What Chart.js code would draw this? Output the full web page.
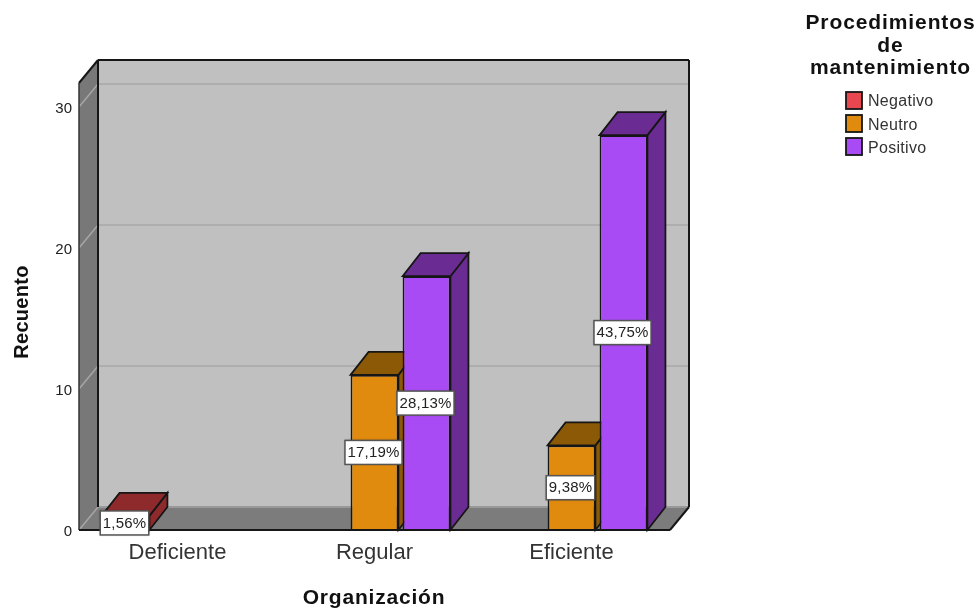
<!DOCTYPE html>
<html>
<head>
<meta charset="utf-8">
<title>Organización</title>
<script src="https://cdn.jsdelivr.net/npm/chart.js@4"></script>
<style>
  body { margin: 0; background: #fff; }
  canvas { display: block; }
</style>
</head>
<body>
<canvas id="recuentoChart" width="979" height="609"></canvas>
<script>
const categorias = ['Deficiente', 'Regular', 'Eficiente'];
const negativo = [1, null, null];
const neutro = [null, 11, 6];
const positivo = [null, 18, 28];
const negativoPct = ['1,56%', null, null];
const neutroPct = [null, '17,19%', '9,38%'];
const positivoPct = [null, '28,13%', '43,75%'];
const yTicks = [0, 10, 20, 30];
const tituloLeyenda = ['Procedimientos', 'de', 'mantenimiento'];

const FONT = '"Liberation Sans", Arial, sans-serif';
const DX = 19, DY = -23; // profundidad de la caja 3D
const NEGRO = '#161616';

function poly(ctx, pts, fill, stroke, lw) {
    ctx.beginPath();
    pts.forEach((p, i) => i ? ctx.lineTo(p[0], p[1]) : ctx.moveTo(p[0], p[1]));
    ctx.closePath();
    if (fill) { ctx.fillStyle = fill; ctx.fill(); }
    if (stroke) { ctx.strokeStyle = stroke; ctx.lineWidth = lw || 1.5; ctx.stroke(); }
}

function line(ctx, x1, y1, x2, y2, color, lw) {
    ctx.beginPath();
    ctx.moveTo(x1, y1);
    ctx.lineTo(x2, y2);
    ctx.strokeStyle = color;
    ctx.lineWidth = lw;
    ctx.stroke();
}

// paredes, suelo y rejilla
const caja = {
    id: 'caja',
    beforeDatasetsDraw(chart) {
        const { ctx, chartArea: a, scales: { y } } = chart;
        ctx.save();
        poly(ctx, [[a.left + DX, a.top + DY], [a.right + DX, a.top + DY], [a.right + DX, a.bottom + DY], [a.left + DX, a.bottom + DY]], '#c0c0c0');
        poly(ctx, [[a.left, a.top], [a.left + DX, a.top + DY], [a.left + DX, a.bottom + DY], [a.left, a.bottom]], '#787878');
        poly(ctx, [[a.left, a.bottom], [a.left + DX, a.bottom + DY], [a.right + DX, a.bottom + DY], [a.right, a.bottom]], '#7c7c7c');
        yTicks.forEach(v => {
            const py = y.getPixelForValue(v);
            line(ctx, a.left, py, a.left + DX, py + DY, '#a6a6a6', 1.5);
            line(ctx, a.left + DX, py + DY, a.right + DX, py + DY, v === 0 ? '#999' : '#aeaeae', 2);
        });
        // aristas
        line(ctx, a.left + DX, a.top + DY, a.right + DX, a.top + DY, NEGRO, 2);
        line(ctx, a.right + DX, a.top + DY, a.right + DX, a.bottom + DY, NEGRO, 2);
        line(ctx, a.right + DX, a.bottom + DY, a.right, a.bottom, NEGRO, 2);
        line(ctx, a.left + DX, a.top + DY, a.left + DX, a.bottom + DY, NEGRO, 2);
        line(ctx, a.left, a.top, a.left + DX, a.top + DY, NEGRO, 2);
        line(ctx, a.left, a.top, a.left, a.bottom, '#333', 1.5);
        line(ctx, a.left, a.bottom, a.right, a.bottom, NEGRO, 2);

        // caras lateral y superior de cada barra, el frente lo pinta Chart.js encima
        chart.data.datasets.forEach((ds, i) => {
            chart.getDatasetMeta(i).data.forEach((bar, j) => {
                if (ds.data[j] === null) return;
                const w = bar.width / 2;
                const l = bar.x - w, r = bar.x + w, t = bar.y, b = bar.base;
                poly(ctx, [[r, t], [r + DX - 1, t + DY], [r + DX - 1, b + DY], [r, b]], ds.sombra, NEGRO, 1.8);
                poly(ctx, [[l, t], [l + DX - 1, t + DY], [r + DX - 1, t + DY], [r, t]], ds.sombra, NEGRO, 1.8);
            });
        });
        ctx.restore();
    },
    afterDatasetsDraw(chart) {
        const { ctx, chartArea: a } = chart;
        ctx.save();
        line(ctx, a.left, a.bottom, a.right, a.bottom, NEGRO, 2);
        // etiquetas de porcentaje
        ctx.font = '15px ' + FONT;
        ctx.letterSpacing = '0.2px';
        ctx.textAlign = 'center';
        ctx.textBaseline = 'middle';
        chart.data.datasets.forEach((ds, i) => {
            chart.getDatasetMeta(i).data.forEach((bar, j) => {
                const txt = ds.etiquetas[j];
                if (!txt) return;
                const cy = (bar.y + bar.base) / 2;
                const bw = ctx.measureText(txt).width + 5, bh = 24;
                ctx.fillStyle = '#fff';
                ctx.shadowColor = 'rgba(0,0,0,0.35)';
                ctx.shadowBlur = 2;
                ctx.fillRect(bar.x - bw / 2 - 1, cy - bh / 2, bw, bh);
                ctx.shadowColor = 'transparent';
                ctx.shadowBlur = 0;
                ctx.strokeStyle = '#555';
                ctx.lineWidth = 1.5;
                ctx.strokeRect(bar.x - bw / 2 - 1, cy - bh / 2, bw, bh);
                ctx.fillStyle = '#222';
                ctx.fillText(txt, bar.x - 1, cy + 0.5);
            });
        });

        // títulos de los ejes
        ctx.fillStyle = '#111';
        ctx.font = 'bold 21px ' + FONT;
        ctx.letterSpacing = '0.8px';
        ctx.fillText('Organización', 374, 598);
        ctx.save();
        ctx.translate(22, 312);
        ctx.rotate(-Math.PI / 2);
        ctx.font = 'bold 20px ' + FONT;
        ctx.letterSpacing = '0.3px';
        ctx.fillText('Recuento', 0, 0);
        ctx.restore();

        // leyenda
        ctx.fillStyle = '#111';
        ctx.font = 'bold 21px ' + FONT;
        ctx.letterSpacing = '0.9px';
        tituloLeyenda.forEach((t, i) => ctx.fillText(t, 890.5, 23.5 + i * 22.5));
        ctx.font = '16px ' + FONT;
        ctx.letterSpacing = '0.3px';
        ctx.textAlign = 'left';
        chart.data.datasets.forEach((ds, i) => {
            const top = 92 + i * 23;
            ctx.fillStyle = ds.backgroundColor;
            ctx.fillRect(846, top, 16, 17);
            ctx.strokeStyle = NEGRO;
            ctx.lineWidth = 1.8;
            ctx.strokeRect(846, top, 16, 17);
            ctx.fillStyle = '#333';
            ctx.fillText(ds.label, 868, top + 10 + i * 0.5);
        });
        ctx.restore();
    }
};

new Chart(document.getElementById('recuentoChart'), {
    type: 'bar',
    data: {
        labels: categorias,
        datasets: [
            { label: 'Negativo', data: negativo, etiquetas: negativoPct, backgroundColor: '#e8474f', sombra: '#8e2a2c', borderColor: NEGRO, borderWidth: 1.8 },
            { label: 'Neutro', data: neutro, etiquetas: neutroPct, backgroundColor: '#e08a0e', sombra: '#8c5a07', borderColor: NEGRO, borderWidth: 1.8 },
            { label: 'Positivo', data: positivo, etiquetas: positivoPct, backgroundColor: '#a94bf5', sombra: '#6a2b93', borderColor: NEGRO, borderWidth: 1.8 }
        ]
    },
    plugins: [caja],
    options: {
        responsive: false,
        animation: false,
        categoryPercentage: 0.792,
        barPercentage: 0.92,
        layout: { padding: { top: 83, right: 309, left: 0, bottom: 0 } },
        plugins: { legend: { display: false }, tooltip: { enabled: false } },
        scales: {
            x: {
                afterFit: s => { s.height = 79; },
                grid: { display: false, drawTicks: false },
                border: { display: false },
                ticks: { color: '#333', padding: 10, font: { family: FONT, size: 22 } }
            },
            y: {
                min: 0,
                max: 31.7,
                afterFit: s => { s.width = 79; },
                afterBuildTicks: s => { s.ticks = yTicks.map(v => ({ value: v })); },
                grid: { display: false, drawTicks: false },
                border: { display: false },
                ticks: { color: '#222', padding: 7, labelOffset: 2, font: { family: FONT, size: 15 } }
            }
        }
    }
});
</script>
</body>
</html>
